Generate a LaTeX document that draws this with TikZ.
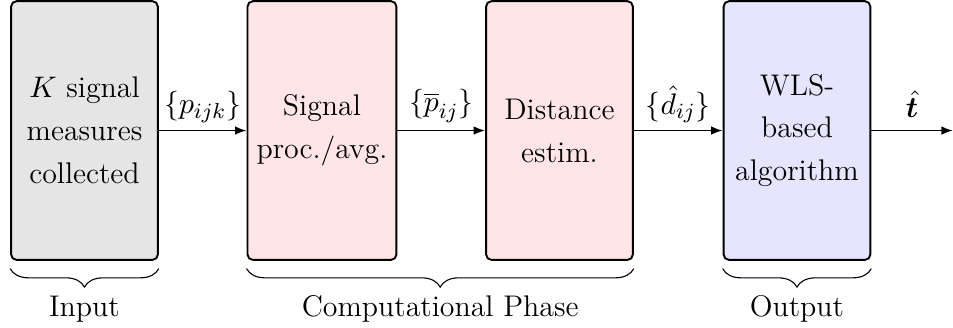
\documentclass[tikz,border=0pt]{standalone}
\usepackage{amsmath,amssymb,bm}
\usetikzlibrary{arrows.meta,positioning,decorations.pathreplacing}

\begin{document}
\begin{tikzpicture}[
  font=\fontsize{11}{15.8}\selectfont,
  block/.style={rectangle, draw, rounded corners=0.7mm, line width=0.7pt,
                minimum width=1.9cm, minimum height=3.35cm, align=center},
  arr/.style={-{Latex[length=1.5mm]}, line width=0.7pt},
  brc/.style={decorate, decoration={brace, mirror, amplitude=0.24cm}}
]
  \useasboundingbox (-1.094,-2.545) rectangle (11.245,1.69);
  \node[block, fill=black!10] (in) at (0,0) {$K$ signal\\ measures\\ collected};
  \node[block, fill=red!10] (sp) at (3.075,0) {Signal\\ proc./avg.};
  \node[block, fill=red!10] (de) at (6.15,0) {Distance\\ estim.};
  \node[block, fill=blue!10] (wls) at (9.225,0) {WLS-\\ based\\ algorithm};
  \coordinate (out) at (11.245,0);
  \draw[arr] (in) -- node[above, inner sep=2.5pt]{$\{p_{ijk}\}$} (sp);
  \draw[arr] (sp) -- node[above, inner sep=2.5pt]{$\{\overline{p}_{ij}\}$} (de);
  \draw[arr] (de) -- node[above, inner sep=2.5pt]{$\{\hat{d}_{ij}\}$} (wls);
  \draw[arr] (wls) -- node[above=1pt]{$\hat{\bm{t}}$} (out);
  \draw[brc] ([yshift=-1mm]in.south west) -- node[below=0.23cm]{Input} ([yshift=-1mm]in.south east);
  \draw[brc] ([yshift=-1mm]sp.south west) -- node[below=0.23cm]{Computational Phase} ([yshift=-1mm]de.south east);
  \draw[brc] ([yshift=-1mm]wls.south west) -- node[below=0.23cm]{Output} ([yshift=-1mm]wls.south east);
\end{tikzpicture}
\end{document}
